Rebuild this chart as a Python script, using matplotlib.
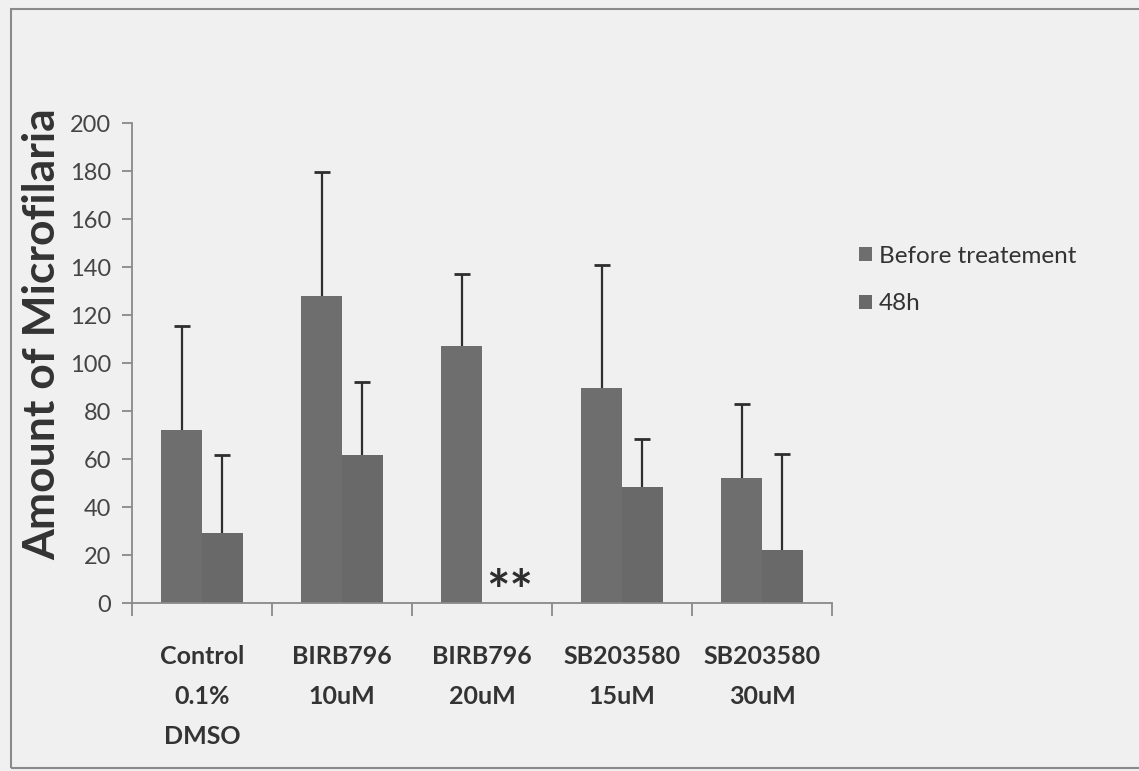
import numpy as np
import matplotlib.pyplot as plt
from matplotlib.patches import Rectangle

categories = ['Control\n0.1%\nDMSO', 'BIRB796\n10uM', 'BIRB796\n20uM', 'SB203580\n15uM', 'SB203580\n30uM']
before = [72, 128, 107, 89.5, 52]
before_err = [43.5, 51.5, 30, 51.5, 31]
after_48h = [29, 61.5, 0, 48.5, 22]
after_err = [32.5, 30.5, 0, 20, 40]

plt.rcParams['font.family'] = ['Lato', 'DejaVu Sans']

fig = plt.figure(figsize=(11.39, 7.71), dpi=100)
fig.patch.set_facecolor('#f0f0f0')
fig.patches.append(Rectangle((11 / 1139, 3 / 771), 1.2, 759 / 771, transform=fig.transFigure,
                             fill=False, edgecolor='#8a8a8a', linewidth=1.5))

ax = fig.add_axes([132 / 1139, 1 - 603 / 771, 700 / 1139, 480 / 771])
ax.set_facecolor('none')

x = np.arange(len(categories))
w = 0.29
ax.bar(x - w / 2, before, w, color='#6e6e6e', linewidth=0, label='Before treatement')
ax.bar(x + w / 2, after_48h, w, color='#696969', linewidth=0, label='48h')

# upward-only error bars, cap at the top only
for xs, ys, es in [(x - w / 2, before, before_err), (x + w / 2, after_48h, after_err)]:
    for xi, yi, ei in zip(xs, ys, es):
        if ei <= 0:
            continue
        ax.plot([xi, xi], [yi, yi + ei], color='#2e2e2e', lw=1.6, solid_capstyle='butt')
        ax.plot(xi, yi + ei, marker='_', markersize=11, mew=2, color='#2e2e2e')

ax.text(x[2] + w / 2 + 0.05, -3, '**', ha='center', va='baseline', fontsize=40,
        fontweight='bold', color='#2e2e2e', clip_on=False)

ax.set_xlim(-0.5, len(categories) - 0.5)
ax.set_ylim(0, 200)
ax.set_yticks(np.arange(0, 201, 20))
ax.set_xticks(x)
ax.set_xticklabels(categories, fontsize=18, fontweight='bold', color='#333333', linespacing=1.9)
ax.set_xticks(np.arange(-0.5, len(categories), 1), minor=True)
ax.tick_params(axis='x', which='major', length=0, pad=30)
ax.tick_params(axis='x', which='minor', length=9, width=1.3, color='#8a8a8a', direction='out')
ax.tick_params(axis='y', length=7, width=1.3, color='#8a8a8a', labelsize=17, labelcolor='#454545', pad=8)

for s in ['top', 'right']:
    ax.spines[s].set_visible(False)
for s in ['left', 'bottom']:
    ax.spines[s].set_color('#8a8a8a')
    ax.spines[s].set_linewidth(1.3)

ax.set_ylabel('Amount of Microfilaria', fontsize=32, fontweight='bold', color='#333333')
ax.yaxis.set_label_coords(-0.099, 0.56)

ax.legend(loc='upper left', bbox_to_anchor=(1.008, 0.79), frameon=False, fontsize=17.5,
          handlelength=0.5, handleheight=0.5, handletextpad=0.3, labelspacing=1.1,
          labelcolor='#333333')

fig.savefig('out.png', dpi=100, facecolor=fig.get_facecolor())
